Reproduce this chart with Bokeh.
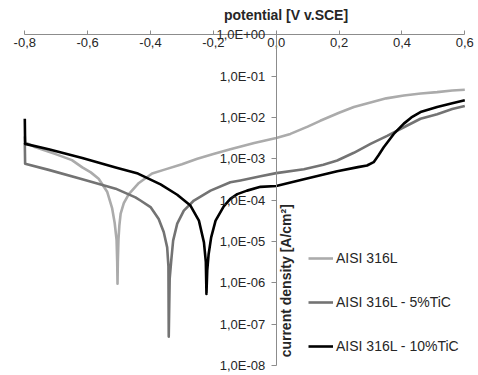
from math import pi, log10
from bokeh.plotting import figure
from bokeh.models import (FixedTicker, CustomJSTickFormatter, Label, Legend, LegendItem)
from bokeh.embed import file_html
from bokeh.resources import INLINE

# ---- data (potential V vs SCE, current density A/cm2) ----
x_ticks = [-0.8, -0.6, -0.4, -0.2, 0.0, 0.2, 0.4, 0.6]
y_ticks = [1e-8, 1e-7, 1e-6, 1e-5, 1e-4, 1e-3, 1e-2, 1e-1, 1e0]

series_names = ["AISI 316L", "AISI 316L - 5%TiC", "AISI 316L - 10%TiC"]
series_colors = ["#ABABAB", "#737373", "#000000"]

e_316 = [-0.8, -0.799, -0.766, -0.702, -0.65, -0.617, -0.59, -0.565, -0.538, -0.522,
         -0.514, -0.508, -0.506, -0.505, -0.504, -0.502, -0.499, -0.495, -0.485, -0.469,
         -0.437, -0.395, -0.358, -0.30, -0.251, -0.20, -0.146, -0.07, 0.0, 0.045,
         0.10, 0.14, 0.20, 0.247, 0.30, 0.35, 0.406, 0.46, 0.512, 0.56, 0.60]
i_316 = [3.5e-3, 2.5e-3, 1.9e-3, 1.3e-3, 9.3e-4, 6.2e-4, 4.7e-4, 3.3e-4, 1.6e-4, 6.3e-5,
         2.8e-5, 1.1e-5, 3.2e-6, 9.5e-7, 3.2e-6, 1.1e-5, 2.5e-5, 4.7e-5, 8.5e-5, 1.4e-4,
         2.6e-4, 4.4e-4, 5.4e-4, 7.4e-4, 1.0e-3, 1.3e-3, 1.7e-3, 2.4e-3, 3.2e-3, 4.0e-3,
         6.0e-3, 8.3e-3, 1.3e-2, 1.8e-2, 2.3e-2, 2.9e-2, 3.4e-2, 3.8e-2, 4.1e-2, 4.5e-2, 4.7e-2]

e_5tic = [-0.8, -0.799, -0.724, -0.617, -0.511, -0.448, -0.432, -0.40, -0.374, -0.358,
          -0.347, -0.343, -0.342, -0.339, -0.334, -0.328, -0.315, -0.294, -0.262, -0.209,
          -0.146, -0.114, -0.05, 0.0, 0.088, 0.15, 0.194, 0.247, 0.30, 0.353,
          0.406, 0.459, 0.512, 0.56, 0.60]
i_5tic = [2.4e-3, 7.6e-4, 5.4e-4, 3.2e-4, 1.9e-4, 1.17e-4, 9.8e-5, 6.8e-5, 3.5e-5, 1.7e-5,
          7.2e-6, 2.5e-6, 5.0e-8, 1.26e-6, 3.5e-6, 1.05e-5, 2.7e-5, 5.6e-5, 9.8e-5, 1.7e-4,
          2.7e-4, 3.0e-4, 3.8e-4, 4.5e-4, 5.6e-4, 7.2e-4, 9.1e-4, 1.4e-3, 2.3e-3, 3.6e-3,
          5.8e-3, 9.3e-3, 1.2e-2, 1.6e-2, 1.9e-2]

e_10tic = [-0.8, -0.799, -0.724, -0.617, -0.511, -0.44, -0.368, -0.315, -0.273, -0.246,
           -0.23, -0.224, -0.222, -0.2195, -0.215, -0.207, -0.193, -0.167, -0.146, -0.124,
           -0.093, -0.05, 0.0, 0.088, 0.194, 0.26, 0.289, 0.31, 0.325, 0.342,
           0.374, 0.406, 0.43, 0.459, 0.512, 0.56, 0.60]
i_10tic = [9.3e-3, 2.3e-3, 1.7e-3, 1.05e-3, 6.2e-4, 4.4e-4, 2.4e-4, 1.35e-4, 7.4e-5, 3.2e-5,
           9.5e-6, 3.2e-6, 5.4e-7, 2.0e-6, 5.0e-6, 1.26e-5, 3.2e-5, 7.1e-5, 1.07e-4, 1.4e-4,
           1.7e-4, 2.1e-4, 2.2e-4, 3.2e-4, 5.0e-4, 6.3e-4, 6.9e-4, 8.3e-4, 1.2e-3, 1.9e-3,
           4.0e-3, 7.1e-3, 1.0e-2, 1.35e-2, 1.8e-2, 2.2e-2, 2.6e-2]

x_title = "potential [V v.SCE]"
y_title = "current density  [A/cm²]"

FONT = "Liberation Sans"
W, H = 476, 373

# plot-area placement in pixels (axes box inside the canvas)
AX_L, AX_R, AX_T, AX_B = 24.3, 464.3, 34.3, 365.0
xmin, xmax = x_ticks[0], x_ticks[-1]
ppu = (AX_R - AX_L) / (xmax - xmin)
x0 = xmin - AX_L / ppu
x1 = x0 + W / ppu
lmin, lmax = log10(y_ticks[0]), log10(y_ticks[-1])
ppd = (AX_B - AX_T) / (lmax - lmin)
ytop = lmax + AX_T / ppd
ybot = ytop - H / ppd

p = figure(width=W, height=H, x_range=(x0, x1), y_range=(10 ** ybot, 10 ** ytop),
           y_axis_type="log", output_backend="svg", toolbar_location=None,
           title=None, min_border=0)
p.outline_line_color = None
p.xgrid.visible = False
p.ygrid.visible = False
p.background_fill_color = "white"
p.border_fill_color = "white"

# x axis drawn at the top of the plot area (y = 1)
xa = p.xaxis[0]
xa.fixed_location = y_ticks[-1]
xa.bounds = (xmin, xmax)
xa.ticker = FixedTicker(ticks=x_ticks, minor_ticks=[])
xa.formatter = CustomJSTickFormatter(code="return tick.toFixed(1).replace('.', ',');")
xa.major_tick_in = 4
xa.major_tick_out = 0
xa.minor_tick_in = 0
xa.minor_tick_out = 0
xa.major_label_standoff = 3
xa.axis_line_color = "#8C8C8C"
xa.major_tick_line_color = "#8C8C8C"
xa.major_label_text_font = FONT
xa.major_label_text_font_size = "13px"
xa.major_label_text_color = "#262626"

# y axis drawn at x = 0
ya = p.yaxis[0]
ya.fixed_location = 0.0
ya.bounds = (y_ticks[0], y_ticks[-1])
ya.ticker = FixedTicker(ticks=y_ticks, minor_ticks=[])
ya.formatter = CustomJSTickFormatter(code="""
const e = Math.round(Math.log10(tick));
const s = e < 0 ? '-' : '+';
return '1,0E' + s + String(Math.abs(e)).padStart(2, '0');
""")
ya.major_tick_in = 0
ya.major_tick_out = 5
ya.minor_tick_in = 0
ya.minor_tick_out = 0
ya.major_label_standoff = 6
ya.axis_line_color = "#8C8C8C"
ya.major_tick_line_color = "#8C8C8C"
ya.major_label_text_font = FONT
ya.major_label_text_font_size = "13px"
ya.major_label_text_color = "#262626"

renderers = []
for xs, ys, col in [(e_316, i_316, series_colors[0]),
                    (e_5tic, i_5tic, series_colors[1]),
                    (e_10tic, i_10tic, series_colors[2])]:
    r = p.line(xs, ys, line_color=col, line_width=2.6, line_join="round")
    renderers.append(r)

legend = Legend(items=[LegendItem(label=n, renderers=[r]) for n, r in zip(series_names, renderers)],
                location=(308, H - 356), orientation="vertical",
                border_line_color=None, background_fill_alpha=0,
                padding=0, margin=0, spacing=24,
                glyph_height=20, glyph_width=25, label_height=20, label_standoff=3,
                label_text_font=FONT, label_text_font_size="14px",
                label_text_color="#262626")
p.add_layout(legend, "center")

p.add_layout(Label(x=285.5, y=H - 14.7, x_units="screen", y_units="screen", text=x_title,
                   text_align="center", text_baseline="middle", text_font=FONT,
                   text_font_style="bold", text_font_size="14px", text_color="#262626"))
p.add_layout(Label(x=285, y=H - 278.3, x_units="screen", y_units="screen", text=y_title,
                   angle=pi / 2, text_align="center", text_baseline="middle",
                   text_font=FONT, text_font_style="bold", text_font_size="14px",
                   text_color="#262626"))

open("out.html", "w").write(file_html(p, INLINE))
